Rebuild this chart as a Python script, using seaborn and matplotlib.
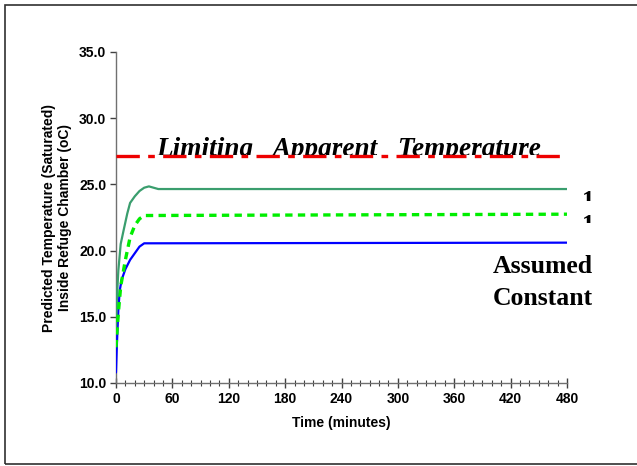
import numpy as np
import pandas as pd
import matplotlib
matplotlib.use("Agg")
import matplotlib.pyplot as plt
import seaborn as sns
from matplotlib.transforms import Bbox, TransformedBbox
from matplotlib.patches import Rectangle

# ---- data ----
t_blue = [0, 1, 2.5, 4, 6, 10, 15, 20, 25, 30, 480]
v_blue = [10.8, 13.0, 15.5, 17.0, 17.8, 18.6, 19.3, 19.8, 20.3, 20.55, 20.6]

t_lime = [0, 1, 2.5, 5, 10, 15, 20, 25, 30, 480]
v_lime = [12.7, 13.8, 15.3, 17.3, 19.3, 21.0, 21.9, 22.4, 22.65, 22.75]

t_green = [0, 1, 2.5, 5, 8, 12, 15, 20, 25, 30, 35, 40, 45, 480]
v_green = [14.0, 16.5, 18.5, 20.5, 21.5, 22.8, 23.6, 24.1, 24.5, 24.75, 24.85, 24.75, 24.65, 24.65]

t_limit = [0, 480]
v_limit = [27.15, 27.15]

x_ticks = [0, 60, 120, 180, 240, 300, 360, 420, 480]
y_ticks = [10.0, 15.0, 20.0, 25.0, 30.0, 35.0]

limit_label = "Limiting   Apparent   Temperature"
series_labels = ["1", "1"]
const_label = ["Assumed", "Constant"]
xlabel = "Time (minutes)"
ylabel = "Predicted Temperature (Saturated)\nInside Refuge Chamber (oC)"

sns.set_style("white")
plt.rcParams['font.family'] = ['Liberation Sans', 'DejaVu Sans']
plt.rcParams['text.color'] = 'black'
plt.rcParams['axes.labelcolor'] = 'black'
plt.rcParams['xtick.color'] = 'black'
plt.rcParams['ytick.color'] = 'black'

W, H = 637, 466
fig = plt.figure(figsize=(W/100, H/100), dpi=100)
ax = fig.add_axes([116/W, 1-383/H, (567-116)/W, (383-52)/H])

df_b = pd.DataFrame({"t": t_blue, "v": v_blue})
df_l = pd.DataFrame({"t": t_lime, "v": v_lime})
df_g = pd.DataFrame({"t": t_green, "v": v_green})
df_r = pd.DataFrame({"t": t_limit, "v": v_limit})

sns.lineplot(data=df_b, x="t", y="v", ax=ax, color="#0000FF", lw=1.6, zorder=3)
sns.lineplot(data=df_g, x="t", y="v", ax=ax, color="#3A9E6E", lw=1.6, zorder=3)
sns.lineplot(data=df_l, x="t", y="v", ax=ax, color="#00EE00", lw=2.4, zorder=3,
             linestyle=(0, (2.2, 1.6)))
sns.lineplot(data=df_r, x="t", y="v", ax=ax, color="#EE0000", lw=2.4, zorder=4,
             linestyle=(0, (7, 2.5, 2, 2.5)))

ax.set_xlim(0, 480)
ax.set_ylim(10, 35)
ax.set_xticks(x_ticks)
ax.set_xticks(np.arange(0, 481, 10), minor=True)
ax.set_yticks(y_ticks)
ax.set_xticklabels([str(v) for v in x_ticks], fontsize=10, fontweight='bold')
ax.set_yticklabels([f"{v:.1f}" for v in y_ticks], fontsize=10, fontweight='bold')
ax.set_xlabel(xlabel, fontsize=10, fontweight='bold', labelpad=7)
ax.set_ylabel(ylabel, fontsize=10, fontweight='bold', labelpad=5)

for s in ["top", "right"]:
    ax.spines[s].set_visible(False)
for s in ["left", "bottom"]:
    ax.spines[s].set_color("#707070")
    ax.spines[s].set_linewidth(1.0)
ax.tick_params(axis='x', which='major', bottom=True, direction='inout', length=7, width=1,
               color="#404040", pad=3)
ax.tick_params(axis='x', which='minor', bottom=True, direction='inout', length=4, width=0.8,
               color="#404040")
ax.tick_params(axis='y', which='major', left=True, direction='out', length=4, width=1,
               color="#404040", pad=3)
ax.grid(False)

serif = ['Liberation Serif', 'DejaVu Serif']

# Limiting apparent temperature label, clipped at the line
txt = ax.text(42.5, 27.15, limit_label, fontsize=19.6, fontweight='bold', fontstyle='italic',
              family=serif, ha='left', va='baseline', zorder=2, color='black')
txt.set_clip_box(TransformedBbox(Bbox([[0, 27.2], [480, 35]]), ax.transData))
txt.set_clip_on(True)

# clipped "1" labels
for ytop, yclip, lab in [(24.6, 23.75, series_labels[0]), (22.8, 22.1, series_labels[1])]:
    t1 = ax.text(496, ytop, lab, fontsize=18, fontweight='bold', family=serif,
                 ha='left', va='top', zorder=2, color='black')
    t1.set_clip_box(TransformedBbox(Bbox([[480, yclip], [540, 35]]), ax.transData))
    t1.set_clip_on(True)

ax.text(401, 18.3, const_label[0], fontsize=18.5, fontweight='bold', family=serif,
        ha='left', va='baseline', clip_on=False, color='black')
ax.text(401, 15.9, const_label[1], fontsize=18.5, fontweight='bold', family=serif,
        ha='left', va='baseline', clip_on=False, color='black')

# outer frame
fig.patches.append(Rectangle((5/W, 2/H), 1.2, 1-7/H, transform=fig.transFigure,
                             fill=False, edgecolor="#303030", lw=1.2))

fig.savefig("out.png", dpi=100)
